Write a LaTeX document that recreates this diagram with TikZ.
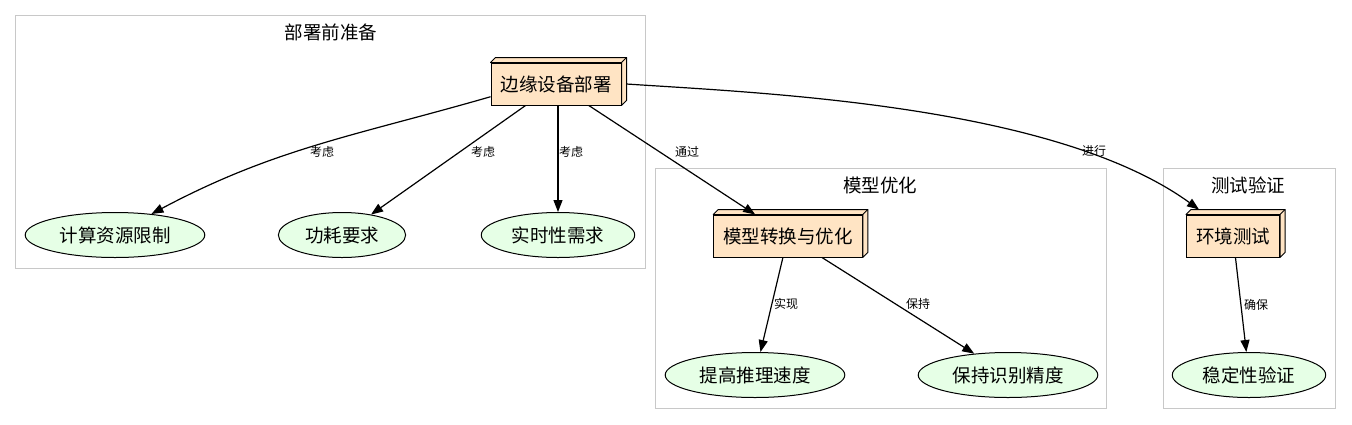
\documentclass[tikz,border=0pt]{standalone}
\usepackage{fontspec}
\setmainfont{Noto Sans CJK SC}
\usetikzlibrary{shapes.geometric,arrows.meta,calc}
\definecolor{bisque}{RGB}{255,228,196}
\definecolor{palegreen}{RGB}{230,255,230}
\definecolor{clustergray}{RGB}{200,200,200}
\begin{document}
\begin{tikzpicture}[x=1pt,y=-1pt,
		boxthree/.style={rectangle, draw=black, fill=bisque, line width=1pt, inner xsep=9.5pt, minimum height=42pt, font=\fontsize{18.5}{20}\selectfont},
		goal/.style={ellipse, draw=black, fill=palegreen, line width=1pt, inner xsep=8pt, inner ysep=2pt, minimum height=45pt, font=\fontsize{18.5}{20}\selectfont},
		cluster/.style={draw=clustergray, line width=1pt},
		ctitle/.style={font=\fontsize{18.5}{20}\selectfont},
		elabel/.style={font=\fontsize{12}{14}\selectfont, inner sep=0pt},
		arr/.style={-{Triangle[length=12pt,width=9pt]}, line width=1.2pt}]
				\useasboundingbox (0,0) rectangle (1352,424);
				\draw[cluster] (15,15) rectangle (645,268);
				\draw[cluster] (655,168) rectangle (1106,408);
				\draw[cluster] (1163,168) rectangle (1335,408);
				\node[ctitle] (prep) at (331,32) {部署前准备};
				\node[ctitle] (model) at (880,185) {模型优化};
				\node[ctitle] (test) at (1248,185) {测试验证};
				\node[boxthree] (dev) at (556,84) {边缘设备部署};
				\node[boxthree] (opt) at (788,236) {模型转换与优化};
				\node[boxthree] (env) at (1233,236) {环境测试};
				\node[goal] (cpu) at (115,235) {计算资源限制};
				\node[goal] (pow) at (342,235) {功耗要求};
				\node[goal] (rt) at (558,235) {实时性需求};
				\node[goal] (speed) at (755,375) {提高推理速度};
				\node[goal] (acc) at (1008,375) {保持识别精度};
				\node[goal] (stab) at (1249,375) {稳定性验证};
				\foreach \b in {dev,opt,env} {
					\filldraw[fill=bisque, line width=1pt, line join=round] (\b.north west) -- ++(5,-5) -- ($(\b.north east)+(5,-5)$) -- ($(\b.south east)+(5,-5)$) -- (\b.south east) -- (\b.north east) -- cycle;
					\draw[line width=1pt] (\b.north east) -- ++(5,-5);
				}
				\draw[arr] (dev.191) .. controls +(-135,39) and +(124,-66) .. (cpu.30);
				\draw[arr] (dev) -- (pow);
				\draw[arr] (dev.south -| rt) -- (rt);
				\draw[arr] (dev) -- (opt);
				\draw[arr] ($(dev.east)+(5,0)$) .. controls +(135,9) and +(-145,-105) .. ($(env.north west)+(13,-5)$);
				\draw[arr] (opt) -- (speed);
				\draw[arr] (opt) -- (acc);
				\draw[arr] (env) -- (stab);
				\node[elabel] (l1) at (322,152) {考虑};
				\node[elabel] (l2) at (483,152) {考虑};
				\node[elabel] (l3) at (571,152) {考虑};
				\node[elabel] (l4) at (687,152) {通过};
				\node[elabel] (l5) at (1094,151) {进行};
				\node[elabel] (l6) at (786,304) {实现};
				\node[elabel] (l7) at (918,304) {保持};
				\node[elabel] (l8) at (1256,305) {确保};
\end{tikzpicture}
\end{document}
